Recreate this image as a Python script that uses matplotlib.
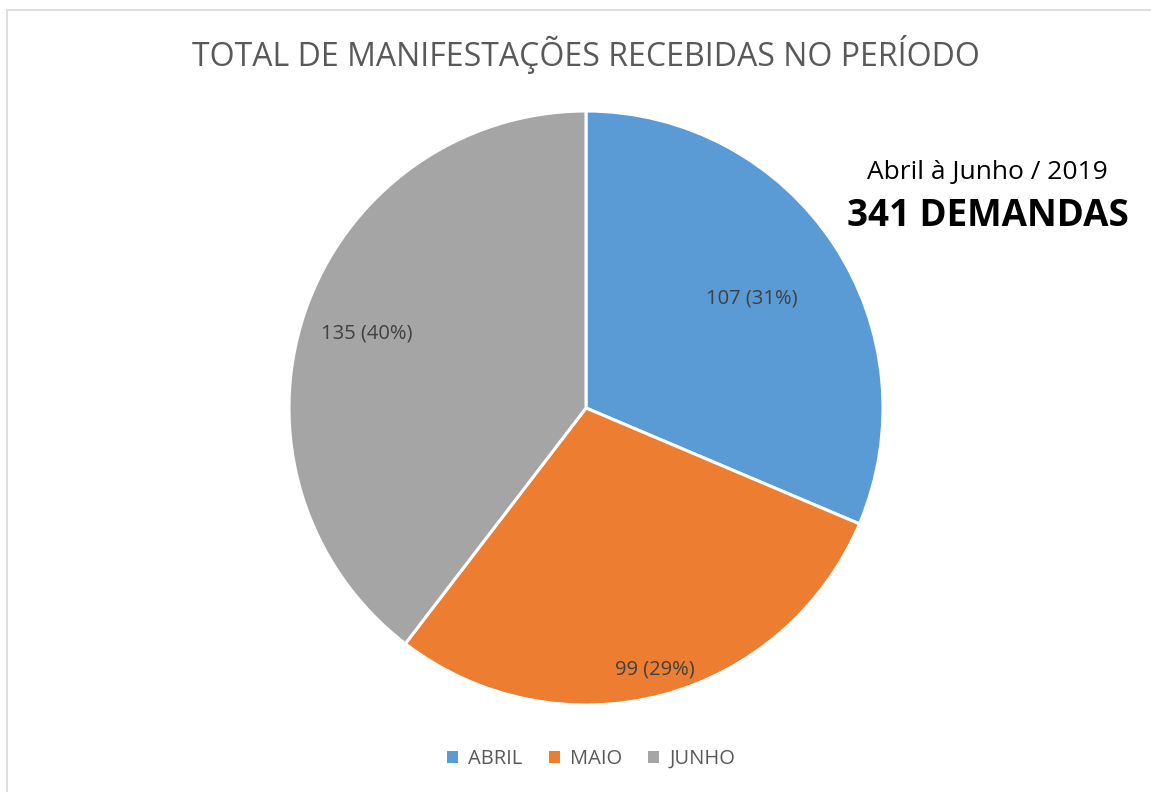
import numpy as np
import matplotlib.pyplot as plt
from matplotlib.patches import Rectangle

categories = ["ABRIL", "MAIO", "JUNHO"]
values = [107, 99, 135]
colors = ["#5B9BD5", "#ED7D31", "#A5A5A5"]
# how far out (fraction of radius) each data label sits, as in the original
label_dist = [0.67, 0.91, 0.78]

title = "TOTAL DE MANIFESTAÇÕES RECEBIDAS NO PERÍODO"
period_text = "Abril à Junho / 2019"
total_text = f"{sum(values)} DEMANDAS"

plt.rcParams["font.family"] = ["Open Sans", "DejaVu Sans"]

W, H = 1151, 792
fig = plt.figure(figsize=(W / 100, H / 100), dpi=100)
ax = fig.add_axes([0, 0, 1, 1])
ax.set_xlim(0, W)
ax.set_ylim(0, H)
ax.set_aspect("equal")
ax.axis("off")

# chart area border (only left/top visible in the original crop)
ax.add_patch(Rectangle((7, -20), W + 40, H - 10 + 20, fill=False,
                       edgecolor="#D9D9D9", linewidth=1.2))

cx, cy, r = 586, H - 408, 297
wedges, _ = ax.pie(values, colors=colors, startangle=90, counterclock=False,
                   center=(cx, cy), radius=r, frame=True,
                   wedgeprops=dict(edgecolor="white", linewidth=2.2))
ax.set_xlim(0, W)
ax.set_ylim(0, H)
ax.axis("off")

total = sum(values)
for w, v, d in zip(wedges, values, label_dist):
    ang = np.deg2rad((w.theta1 + w.theta2) / 2)
    x = cx + d * r * np.cos(ang)
    y = cy + d * r * np.sin(ang)
    ax.text(x, y, f"{v} ({v / total:.0%})", ha="center", va="center",
            fontsize=14.5, color="#404040")

ax.text(586, H - 55, title, ha="center", va="center", fontsize=23,
        color="#595959")
ax.text(987, H - 172, period_text, ha="center", va="center", fontsize=19,
        color="black")
ax.text(988, H - 216, total_text, ha="center", va="center", fontsize=26.5,
        fontweight="bold", color="black")

leg = ax.legend(wedges, categories, loc="center", bbox_to_anchor=(591 / W, 1 - 759 / H),
                ncol=3, frameon=False, fontsize=14.5, handlelength=0.55,
                handleheight=0.55, handletextpad=0.5, columnspacing=1.3)
for t in leg.get_texts():
    t.set_color("#595959")
for h in leg.legend_handles:
    h.set_edgecolor("none")

fig.savefig("out.png", dpi=100)
